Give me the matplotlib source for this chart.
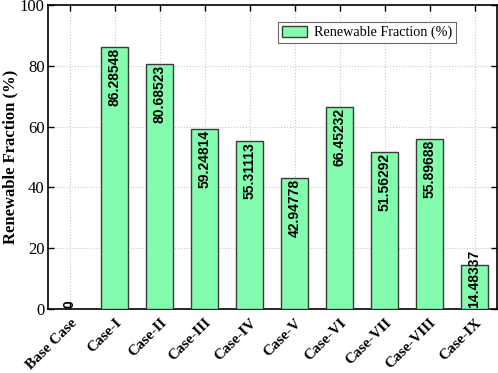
import matplotlib
matplotlib.use("Agg")
import matplotlib.pyplot as plt
import numpy as np

# data
cases = ["Base Case", "Case-I", "Case-II", "Case-III", "Case-IV", "Case-V",
         "Case-VI", "Case-VII", "Case-VIII", "Case-IX"]
renewable_fraction = [0, 86.28548, 80.68523, 59.24814, 55.31113, 42.94778,
                      66.45232, 51.56292, 55.89688, 14.48337]
value_labels = ["0", "86.28548", "80.68523", "59.24814", "55.31113", "42.94778",
                "66.45232", "51.56292", "55.89688", "14.48337"]

bar_color = "#84fcae"
edge_color = "#3a3a3a"

plt.rcParams["font.family"] = ["Liberation Serif", "DejaVu Serif"]

fig = plt.figure(figsize=(4.98, 3.73), dpi=100)
ax = fig.add_axes([0.0954, 0.1716, 0.9026, 0.815])

x = np.arange(len(cases))
bars = ax.bar(x, renewable_fraction, width=0.6, color=bar_color,
              edgecolor=edge_color, linewidth=1.0,
              label="Renewable Fraction (%)", zorder=3)

# value labels, rotated inside the bars
for xi, val, txt in zip(x, renewable_fraction, value_labels):
    if val < 20:
        ax.text(xi, 0.3, txt, rotation=90, ha="center", va="bottom",
                fontsize=10, fontweight="bold", family="Liberation Sans", zorder=4)
    else:
        ax.text(xi, val - 0.3, txt, rotation=90, ha="center", va="top",
                fontsize=10, fontweight="bold", family="Liberation Sans", zorder=4)

ax.set_xlim(-0.5, 9.5)
ax.set_ylim(0, 100)
ax.set_yticks(np.arange(0, 101, 20))
ax.set_xticks(x)
ax.set_xticklabels(cases, rotation=45, ha="right", rotation_mode="anchor",
                   fontsize=11, fontweight="bold")
ax.tick_params(axis="y", labelsize=12, pad=2)
ax.tick_params(axis="x", pad=5)
ax.tick_params(direction="in", top=True, right=True, length=4, width=1.0)
ax.set_ylabel("Renewable Fraction (%)", fontsize=12, fontweight="bold", labelpad=1)

ax.grid(True, linestyle=":", color="#c8c8c8", linewidth=0.8, zorder=0)
ax.set_axisbelow(True)
for s in ax.spines.values():
    s.set_linewidth(1.2)

leg = ax.legend(loc="upper right", bbox_to_anchor=(0.909, 0.944), fontsize=10.2,
                fancybox=False, framealpha=1, edgecolor="#666666",
                handlelength=1.8, handleheight=0.85, handletextpad=0.5,
                borderpad=0.25, borderaxespad=0)
leg.get_frame().set_linewidth(0.8)

fig.savefig("out.png", dpi=100)
